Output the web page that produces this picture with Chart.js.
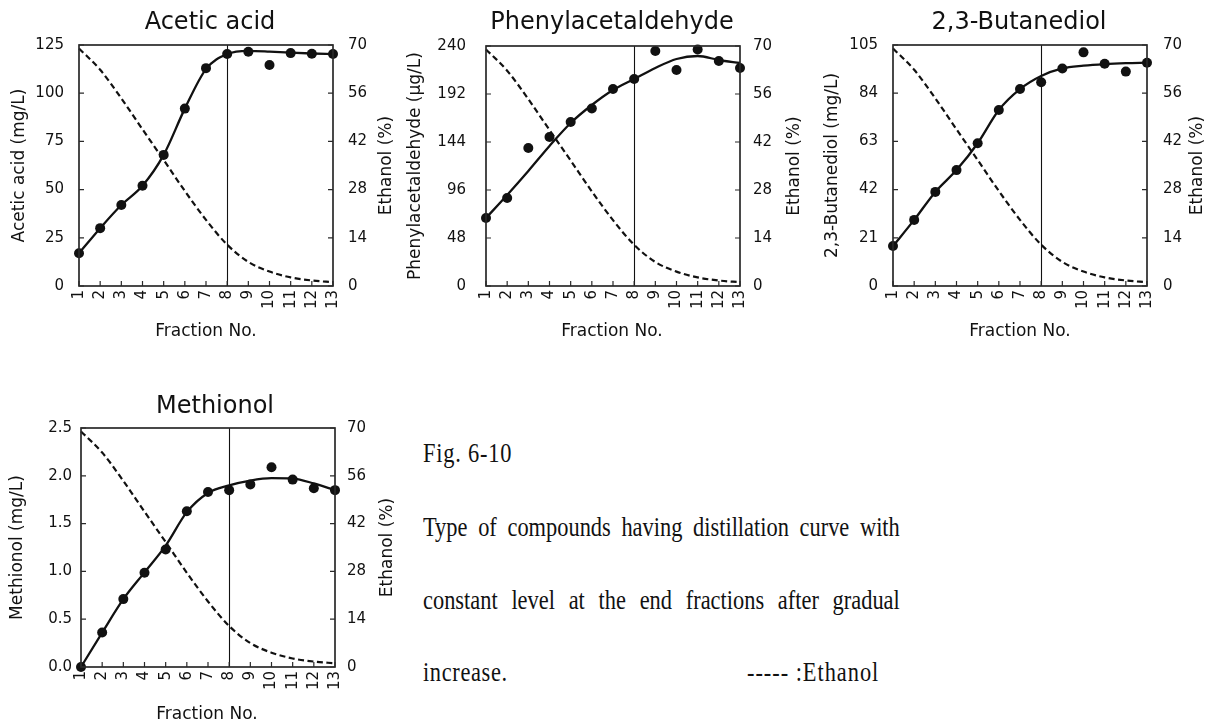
<!DOCTYPE html>
<html><head><meta charset="utf-8">
<script src="https://cdn.jsdelivr.net/npm/chart.js@4.4.1/dist/chart.umd.min.js"></script>
<style>
html,body{margin:0;padding:0;background:#fff;width:1216px;height:725px;overflow:hidden;}
canvas{position:absolute;}
.cap{position:absolute;font-family:"Liberation Serif","Times New Roman",serif;font-size:28px;line-height:28px;color:#111;transform-origin:0 0;transform:scaleX(0.8);white-space:nowrap;}
.just{white-space:normal;width:596px;text-align:justify;text-align-last:justify;}
</style></head><body>
<canvas id="c1" width="405" height="345" style="left:0;top:0"></canvas>
<canvas id="c2" width="405" height="345" style="left:405px;top:0"></canvas>
<canvas id="c3" width="406" height="345" style="left:810px;top:0"></canvas>
<canvas id="c4" width="405" height="345" style="left:0;top:380px"></canvas>
<div class="cap" style="left:423px;top:439px;letter-spacing:1px">Fig. 6-10</div>
<div class="cap just" style="left:423px;top:513px">Type of compounds having distillation curve with</div>
<div class="cap just" style="left:423px;top:586px">constant level at the end fractions after gradual</div>
<div class="cap" style="left:423px;top:658px;letter-spacing:0.8px">increase.</div>
<div class="cap" style="left:747px;top:658px;letter-spacing:1.2px">----- :Ethanol</div>
<script>
// ---- data ----
const fractions = [1,2,3,4,5,6,7,8,9,10,11,12,13];
const ethanol = [69, 62.8, 54.5, 45.5, 36.6, 27.6, 19.2, 12.0, 7.0, 4.2, 2.5, 1.6, 1.1];

const aceticPoints = [17, 30, 42, 52, 68, 92, 113, 120.3, 121.5, 114.6, 120.8, 120.5, 120.3];
const aceticFit    = [17, 30, 42, 52, 68, 92, 112.5, 120.3, 122, 121.6, 121, 120.6, 120.3];

const phenylPoints = [68, 88, 138, 149, 164, 177.5, 197, 207, 235, 216, 236.5, 225, 218];
const phenylFit    = [68, 91, 115, 140, 163, 181, 196, 207, 218, 227, 230, 226, 223];

const butanePoints = [17.4, 28.8, 41, 50.5, 62.2, 76.7, 85.8, 88.8, 94.8, 101.8, 96.8, 93.4, 97.3];
const butaneFit    = [17.4, 28.8, 41, 50.5, 62.2, 76.7, 85.8, 91.5, 94.8, 96, 96.7, 97.1, 97.3];

const methPoints = [0, 0.36, 0.71, 0.985, 1.23, 1.63, 1.83, 1.85, 1.91, 2.09, 1.96, 1.87, 1.85];
const methFit    = [0, 0.36, 0.71, 0.99, 1.27, 1.62, 1.82, 1.9, 1.95, 1.975, 1.97, 1.92, 1.85];

const ethanolTicks = {max: 70, step: 14};
const xTitle = 'Fraction No.';
const ethanolTitle = 'Ethanol (%)';

// ---- drawing ----
const FONT = '"DejaVu Sans", Verdana, sans-serif';
const INK = '#111';
const pairs = vals => fractions.map((f, i) => ({x: f, y: vals[i]}));

const decor = {
  id: 'decor',
  afterDatasetsDraw(chart, args, o) {
    const ctx = chart.ctx, a = chart.chartArea;
    const xs = chart.scales.x, y = chart.scales.y, y2 = chart.scales.y2;
    ctx.save();
    ctx.strokeStyle = INK; ctx.lineWidth = 1.1;
    const x8 = Math.round(xs.getPixelForValue(8)) + 0.5;
    ctx.beginPath(); ctx.moveTo(x8, a.top); ctx.lineTo(x8, a.bottom); ctx.stroke();
    ctx.lineWidth = 1.7; ctx.strokeStyle = '#2a2a2a';
    ctx.strokeRect(a.left, a.top, a.right - a.left, a.bottom - a.top);
    ctx.lineWidth = 1.2;
    ctx.beginPath();
    y.ticks.forEach(t => { const p = y.getPixelForValue(t.value); ctx.moveTo(a.left, p); ctx.lineTo(a.left + 5, p); });
    y2.ticks.forEach(t => { const p = y2.getPixelForValue(t.value); ctx.moveTo(a.right, p); ctx.lineTo(a.right - 5, p); });
    xs.ticks.forEach(t => { const p = xs.getPixelForValue(t.value); ctx.moveTo(p, a.bottom); ctx.lineTo(p, a.bottom - 5); });
    ctx.stroke();
    ctx.restore();
  },
  afterDraw(chart, args, o) {
    const ctx = chart.ctx, a = chart.chartArea;
    const cy = (a.top + a.bottom) / 2;
    ctx.save();
    ctx.fillStyle = INK;
    ctx.textAlign = 'center'; ctx.textBaseline = 'middle';
    ctx.font = '24px ' + FONT;
    ctx.fillText(o.title, o.tx, o.ty);
    ctx.font = '17px ' + FONT;
    ctx.fillText(xTitle, o.fx, o.fy);
    [[o.yTitle, o.lx], [ethanolTitle, o.rx]].forEach(([t, x]) => {
      ctx.save(); ctx.translate(x, cy); ctx.rotate(-Math.PI / 2);
      ctx.fillText(t, 0, 0); ctx.restore();
    });
    ctx.restore();
  }
};

function build(id, g, info) {
  const canvas = document.getElementById(id);
  const W = canvas.width, H = canvas.height;
  const tickFont = {family: FONT, size: 15};
  return new Chart(canvas, {
    type: 'line',
    data: {
      datasets: [
        {data: pairs(info.points), showLine: false, pointRadius: 5, pointBackgroundColor: INK, pointBorderWidth: 0, clip: false, yAxisID: 'y'},
        {data: pairs(info.fit), borderColor: INK, borderWidth: 2.3, pointRadius: 0, cubicInterpolationMode: 'monotone', clip: false, yAxisID: 'y'},
        {data: pairs(ethanol), borderColor: INK, borderWidth: 2.2, borderDash: [6, 3.5], pointRadius: 0, cubicInterpolationMode: 'monotone', clip: false, yAxisID: 'y2'}
      ]
    },
    options: {
      responsive: false, animation: false, devicePixelRatio: 1,
      layout: {padding: {left: 0, right: 0, top: g.top, bottom: 0}},
      plugins: {legend: {display: false}, tooltip: {enabled: false}, title: {display: false}, decor: info.decor},
      scales: {
        x: {type: 'linear', min: 1, max: 13, position: 'bottom',
            grid: {display: false, drawTicks: false}, border: {display: false},
            ticks: {stepSize: 1, autoSkip: false, minRotation: 90, maxRotation: 90, padding: 4, font: tickFont, color: INK},
            afterFit: s => { s.height = H - g.bottom; }},
        y: {position: 'left', min: 0, max: info.yMax,
            grid: {display: false, drawTicks: false}, border: {display: false},
            ticks: {stepSize: info.yStep, padding: info.lpad, font: tickFont, color: INK,
                    callback: v => info.dec ? v.toFixed(info.dec) : v},
            afterFit: s => { s.width = g.left; }},
        y2: {position: 'right', min: 0, max: ethanolTicks.max,
            grid: {display: false, drawTicks: false}, border: {display: false},
            ticks: {stepSize: ethanolTicks.step, padding: info.rpad, font: tickFont, color: INK},
            afterFit: s => { s.width = W - g.right; }}
      }
    },
    plugins: [decor]
  });
}

build('c1', {left: 79, right: 333, top: 45, bottom: 286}, {
  points: aceticPoints, fit: aceticFit, yMax: 125, yStep: 25, lpad: 15, rpad: 15,
  decor: {title: 'Acetic acid', tx: 210, ty: 23, yTitle: 'Acetic acid (mg/L)', lx: 20, rx: 387, fx: 206, fy: 332}
});
build('c2', {left: 81, right: 335, top: 46, bottom: 286}, {
  points: phenylPoints, fit: phenylFit, yMax: 240, yStep: 48, lpad: 20, rpad: 13,
  decor: {title: 'Phenylacetaldehyde', tx: 207, ty: 23, yTitle: 'Phenylacetaldehyde (μg/L)', lx: 11, rx: 390, fx: 207, fy: 332}
});
build('c3', {left: 83, right: 337, top: 45, bottom: 286}, {
  points: butanePoints, fit: butaneFit, yMax: 105, yStep: 21, lpad: 15, rpad: 16,
  decor: {title: '2,3-Butanediol', tx: 209, ty: 23, yTitle: '2,3-Butanediol (mg/L)', lx: 23, rx: 388, fx: 210, fy: 332}
});
build('c4', {left: 81, right: 335, top: 48, bottom: 287}, {
  points: methPoints, fit: methFit, yMax: 2.5, yStep: 0.5, lpad: 9, rpad: 12, dec: 1,
  decor: {title: 'Methionol', tx: 215, ty: 27, yTitle: 'Methionol (mg/L)', lx: 18, rx: 388, fx: 207, fy: 335}
});
</script>
</body></html>
